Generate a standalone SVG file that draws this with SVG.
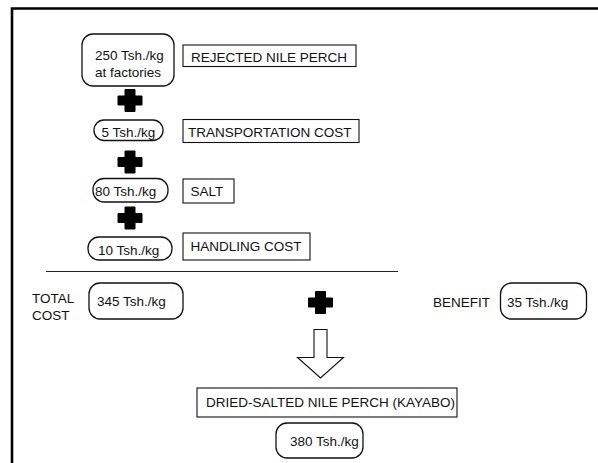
<svg xmlns="http://www.w3.org/2000/svg" width="598" height="463" viewBox="0 0 598 463">
  <defs>
    <style>
      text { font-family: "Liberation Sans", Arial, sans-serif; font-size: 13.5px; fill: #111; }
      .price { fill: #fff; stroke: #111; stroke-width: 1.3; }
      .label { fill: #fff; stroke: #111; stroke-width: 1.1; }
      .plus { fill: #000; stroke: #000; stroke-width: 1; stroke-linejoin: round; }
      .frame { stroke: #000; stroke-width: 2.6; fill: none; }
    </style>
    <path id="plus" d="M-5,-11 h10 v6.5 h7 v9 h-7 v6.5 h-10 v-6.5 h-7 v-9 h7 z"/>
  </defs>
  <rect width="598" height="463" fill="#fff"/>

  <!-- page frame: top and left edges -->
  <path class="frame" d="M12,463 V8.5 H598"/>

  <!-- cost components -->
  <g id="factory-price">
    <rect class="price" x="82" y="34" width="92" height="52" rx="11"/>
    <text x="95" y="60">250 Tsh./kg</text>
    <text x="95" y="76.5">at factories</text>
  </g>
  <g id="rejected-label">
    <rect class="label" x="183" y="45" width="173" height="21.5"/>
    <text x="191" y="61.5">REJECTED NILE PERCH</text>
  </g>

  <g id="transport-price">
    <rect class="price" x="94" y="120" width="69" height="20.5" rx="10"/>
    <text x="101.5" y="137">5 Tsh./kg</text>
  </g>
  <g id="transport-label">
    <rect class="label" x="183" y="119.5" width="176" height="23"/>
    <text x="188" y="137">TRANSPORTATION COST</text>
  </g>

  <g id="salt-price">
    <rect class="price" x="93" y="178.5" width="75" height="23.5" rx="11"/>
    <text x="95" y="196">80 Tsh./kg</text>
  </g>
  <g id="salt-label">
    <rect class="label" x="183" y="179" width="51" height="24"/>
    <text x="190.5" y="195.5">SALT</text>
  </g>

  <g id="handling-price">
    <rect class="price" x="88" y="237" width="84" height="23" rx="11"/>
    <text x="98" y="254.5">10 Tsh./kg</text>
  </g>
  <g id="handling-label">
    <rect class="label" x="183" y="233" width="127" height="27"/>
    <text x="190.5" y="251">HANDLING COST</text>
  </g>

  <!-- totals -->
  <g id="total-cost">
    <text x="32" y="302.5">TOTAL</text>
    <text x="32" y="320">COST</text>
    <rect class="price" x="89" y="283" width="94" height="36" rx="11"/>
    <text x="97" y="306">345 Tsh./kg</text>
  </g>
  <g id="benefit">
    <text x="433" y="306.5">BENEFIT</text>
    <rect class="price" x="500.5" y="283" width="86" height="36" rx="11"/>
    <text x="507" y="306.5">35 Tsh./kg</text>
  </g>

  <g id="product">
    <rect class="label" x="197" y="388" width="260" height="29"/>
    <text x="206" y="407">DRIED-SALTED NILE PERCH (KAYABO)</text>
  </g>
  <g id="product-price">
    <rect class="price" x="276" y="423" width="87" height="35" rx="11"/>
    <text x="290" y="446">380 Tsh./kg</text>
  </g>

  <!-- connectors: plus signs, rule and result arrow -->
  <g id="connectors">
    <use href="#plus" class="plus" x="130" y="100.5"/>
    <use href="#plus" class="plus" x="130" y="162"/>
    <use href="#plus" class="plus" x="130" y="218"/>
    <use href="#plus" class="plus" x="320.5" y="302.5"/>
    <line x1="46" y1="271.5" x2="398" y2="271.5" stroke="#222" stroke-width="1"/>
    <path d="M314,329.5 H327 V357.5 H343.5 L320.5,378 L297.5,357.5 H314 Z" fill="#fff" stroke="#111" stroke-width="1.1" stroke-linejoin="miter"/>
  </g>
</svg>
